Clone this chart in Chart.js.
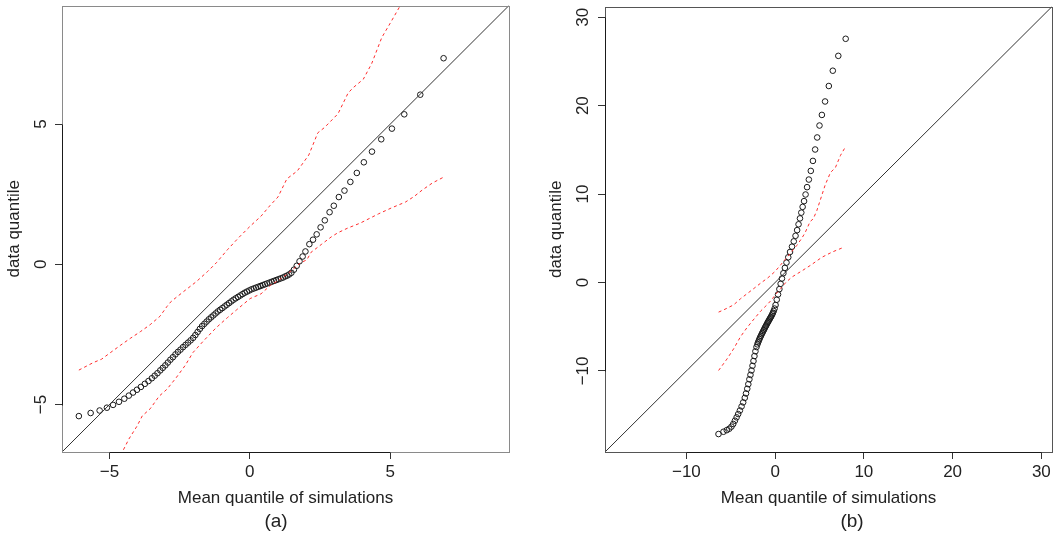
<!DOCTYPE html>
<html lang="en">
<head>
<meta charset="UTF-8">
<title>QQ plots with simulation envelopes</title>
<script src="https://cdn.jsdelivr.net/npm/chart.js"></script>
<style>
  body { margin: 0; background: #fff; width: 1062px; height: 542px; position: relative; overflow: hidden;
         font-family: "Liberation Sans", Arial, sans-serif; }
  .panel { position: absolute; top: 0; height: 542px; }
  #panelA { left: 0; width: 530px; }
  #panelB { left: 530px; width: 532px; }
  .caption { position: absolute; top: 510px; font-size: 19px; line-height: 22px; color: #222; transform: translateX(-50%); }
</style>
</head>
<body>
<div class="panel" id="panelA"><canvas id="chartA"></canvas></div>
<div class="panel" id="panelB"><canvas id="chartB"></canvas></div>
<div class="caption" style="left:276px">(a)</div>
<div class="caption" style="left:852px">(b)</div>

<script>
// ---- panel (a) ----
const aRange = [-6.69, 9.23];
const aTicks = [-5, 0, 5];
const aSimQ = [-6.09, -5.67, -5.35, -5.09, -4.87, -4.66, -4.47, -4.31, -4.16, -4.02, -3.88, -3.74, -3.61, -3.49,
  -3.39, -3.29, -3.19, -3.10, -3.01, -2.92, -2.83, -2.74, -2.65, -2.56, -2.47, -2.38, -2.29, -2.20, -2.11, -2.02,
  -1.94, -1.86, -1.78, -1.70, -1.62, -1.54, -1.46, -1.38, -1.30, -1.22, -1.14, -1.06, -0.98, -0.90, -0.82, -0.74,
  -0.66, -0.58, -0.50, -0.42, -0.34, -0.26, -0.18, -0.10, -0.02, 0.06, 0.14, 0.22, 0.30, 0.38, 0.46, 0.54, 0.62,
  0.70, 0.78, 0.86, 0.94, 1.02, 1.10, 1.18, 1.26, 1.33,
  1.40, 1.48, 1.57, 1.67, 1.77, 1.88, 1.98, 2.12, 2.25, 2.38, 2.52, 2.67, 2.84, 2.99, 3.17, 3.37, 3.58, 3.81,
  4.06, 4.35, 4.68, 5.06, 5.50, 6.07, 6.90];
const aDataQ = [-5.41, -5.30, -5.21, -5.11, -5.01, -4.90, -4.79, -4.68, -4.57, -4.47, -4.37, -4.26, -4.16, -4.06,
  -3.97, -3.88, -3.78, -3.69, -3.60, -3.50, -3.40, -3.31, -3.21, -3.12, -3.04, -2.95, -2.87, -2.79, -2.71, -2.62,
  -2.52, -2.41, -2.30, -2.20, -2.12, -2.04, -1.96, -1.89, -1.82, -1.75, -1.68, -1.62, -1.56, -1.50, -1.44, -1.38,
  -1.32, -1.26, -1.21, -1.16, -1.11, -1.06, -1.01, -0.97, -0.93, -0.89, -0.86, -0.83, -0.80, -0.77, -0.74, -0.71,
  -0.68, -0.65, -0.62, -0.59, -0.56, -0.53, -0.50, -0.47, -0.43, -0.40,
  -0.36, -0.30, -0.19, -0.05, 0.11, 0.28, 0.46, 0.72, 0.88, 1.07, 1.32, 1.57, 1.86, 2.09, 2.40, 2.63, 2.94, 3.26,
  3.64, 4.02, 4.46, 4.84, 5.35, 6.05, 7.35];
const aUpperX = [-6.09, -5.57, -5.28, -4.97, -4.60, -4.26, -3.90, -3.55, -3.20, -2.95, -2.80, -2.36, -1.91, -1.50,
  -1.19, -0.80, -0.40, 0.01, 0.40, 0.72, 1.00, 1.32, 1.69, 2.10, 2.42, 2.66, 3.14, 3.50, 3.68, 4.04, 4.34, 4.70,
  5.00, 5.36, 5.45];
const aUpperY = [-3.77, -3.50, -3.38, -3.15, -2.88, -2.64, -2.40, -2.15, -1.85, -1.50, -1.32, -0.97, -0.62, -0.25,
  0.06, 0.52, 0.95, 1.36, 1.72, 2.10, 2.40, 3.05, 3.33, 3.90, 4.69, 4.88, 5.37, 6.11, 6.30, 6.60, 7.16, 8.09,
  8.60, 9.23, 9.40];
const aLowerX = [-4.60, -4.44, -4.31, -4.02, -3.83, -3.55, -3.23, -2.95, -2.63, -2.30, -2.03, -1.67, -1.19, -0.80,
  -0.47, 0.01, 0.40, 0.73, 1.05, 1.33, 1.60, 1.81, 2.03, 2.18, 2.56, 2.90, 3.14, 3.50, 3.93, 4.58, 5.06, 5.54,
  5.85, 6.14, 6.50, 6.92];
const aLowerY = [-6.80, -6.49, -6.23, -5.77, -5.40, -5.15, -4.70, -4.45, -4.05, -3.60, -3.15, -2.75, -2.25, -1.90,
  -1.62, -1.22, -1.05, -0.75, -0.55, -0.35, -0.12, 0.06, 0.16, 0.43, 0.72, 0.98, 1.13, 1.30, 1.47, 1.80, 2.02, 2.22,
  2.42, 2.65, 2.90, 3.12];

// ---- panel (b) ----
const bRange = [-19.17, 31.2];
const bTicks = [-10, 0, 10, 20, 30];
const bTicksY = [-10, 0, 10, 20, 30];
const bSimQ = [-6.38, -5.82, -5.45, -5.17, -4.92, -4.72, -4.53, -4.34, -4.16, -3.97, -3.78, -3.60, -3.42, -3.28,
  -3.14, -3.02, -2.90, -2.78, -2.66, -2.55, -2.44, -2.33, -2.22, -2.10,
  -2.00, -1.92, -1.84, -1.76, -1.68, -1.60, -1.52, -1.44, -1.36, -1.28, -1.20, -1.12, -1.04, -0.96, -0.88, -0.80,
  -0.72, -0.64, -0.56, -0.48, -0.40, -0.32, -0.24, -0.16, -0.06,
  0.05, 0.18, 0.33, 0.48, 0.62, 0.77, 0.93, 1.10, 1.28, 1.48, 1.68, 1.90, 2.10, 2.30, 2.48, 2.64, 2.80, 2.95,
  3.10, 3.26, 3.43, 3.60, 3.80, 4.02, 4.26, 4.51, 4.74, 5.00, 5.27, 5.63, 6.05, 6.50, 7.12, 7.95];
const bDataQ = [-17.14, -16.88, -16.70, -16.54, -16.30, -16.00, -15.63, -15.25, -14.88, -14.48, -14.02, -13.56,
  -13.05, -12.55, -12.02, -11.50, -10.95, -10.45, -9.95, -9.42, -8.88, -8.32, -7.78, -7.30,
  -7.00, -6.78, -6.58, -6.38, -6.20, -6.03, -5.86, -5.70, -5.54, -5.38, -5.22, -5.06, -4.91, -4.76, -4.61, -4.46,
  -4.32, -4.18, -4.04, -3.90, -3.75, -3.60, -3.42, -3.22, -2.95,
  -2.55, -1.95, -1.35, -0.75, -0.15, 0.45, 1.05, 1.65, 2.25, 2.85, 3.45, 4.05, 4.65, 5.28, 5.92, 6.58, 7.25, 7.90,
  8.55, 9.20, 9.95, 10.78, 11.64, 12.62, 13.75, 15.04, 16.40, 17.75, 18.95, 20.47, 22.22, 23.95, 25.63, 27.56];
const bUpperX = [-6.37, -5.80, -5.23, -4.70, -3.90, -3.20, -2.37, -1.60, -0.84, 0.00, 0.69, 1.30, 1.83, 2.45,
  3.00, 3.36, 3.95, 4.30, 4.70, 5.08, 5.65, 6.23, 6.80, 7.37, 7.95];
const bUpperY = [-3.35, -3.10, -2.81, -2.55, -1.84, -1.30, -0.66, -0.05, 0.51, 1.25, 2.07, 2.80, 3.44, 4.20,
  5.00, 5.59, 6.90, 7.20, 8.13, 9.30, 11.05, 12.42, 13.01, 14.38, 15.38];
const bLowerX = [-6.37, -5.43, -4.68, -3.90, -3.20, -2.60, -1.60, -0.94, -0.46, 0.10, 0.62, 1.20, 1.90, 2.98,
  4.00, 5.27, 6.42, 7.56];
const bLowerY = [-9.95, -8.66, -7.51, -6.13, -5.15, -4.40, -3.20, -2.55, -2.03, -1.30, -0.70, 0.00, 0.62, 1.29,
  1.95, 2.85, 3.44, 3.91];

const FONT = '"Liberation Sans", Arial, sans-serif';
const INK = '#222';
const RED = '#ff2d2d';

const pairs = (xs, ys) => xs.map((x, i) => ({ x: x, y: ys[i] }));
const minus = v => (v < 0 ? '\u2212' + Math.abs(v) : String(v));
const crisp = v => Math.round(v) + 0.5;

// box round the plot region plus the axis lines between first and last tick (R style)
const framePlugin = {
  id: 'frame',
  afterDatasetsDraw(chart, args, opts) {
    const { ctx, chartArea: a, scales: { x, y } } = chart;
    const l = crisp(a.left), t = crisp(a.top), r = crisp(a.right), b = crisp(a.bottom);
    ctx.save();
    ctx.lineWidth = 1;
    ctx.strokeStyle = opts.boxColor;
    ctx.strokeRect(l, t, r - l, b - t);
    ctx.strokeStyle = opts.axisColor;
    ctx.beginPath();
    const xt = opts.xTicks, yt = opts.yTicks;
    ctx.moveTo(crisp(x.getPixelForValue(xt[0])), b);
    ctx.lineTo(crisp(x.getPixelForValue(xt[xt.length - 1])), b);
    ctx.moveTo(l, crisp(y.getPixelForValue(yt[0])));
    ctx.lineTo(l, crisp(y.getPixelForValue(yt[yt.length - 1])));
    ctx.stroke();
    ctx.restore();
  }
};

function makePanel(id, p) {
  const dashed = (data) => ({
    data: data, showLine: true, borderColor: RED, borderWidth: 1, borderDash: [3, 3],
    pointRadius: 0, tension: 0, fill: false
  });
  return new Chart(document.getElementById(id), {
    type: 'scatter',
    data: {
      datasets: [
        dashed(pairs(p.upperX, p.upperY)),
        dashed(pairs(p.lowerX, p.lowerY)),
        {
          data: [{ x: p.range[0], y: p.range[0] }, { x: p.range[1], y: p.range[1] }],
          showLine: true, borderColor: '#333', borderWidth: 1, pointRadius: 0
        },
        {
          data: pairs(p.simQ, p.dataQ), showLine: false, pointStyle: 'circle', pointRadius: 2.8,
          pointBorderWidth: 1, borderColor: '#1a1a1a', backgroundColor: 'rgba(0,0,0,0)', clip: 6
        }
      ]
    },
    options: {
      responsive: true,
      maintainAspectRatio: false,
      animation: false,
      events: [],
      layout: { padding: { top: p.top, right: p.right, left: 0, bottom: 0 } },
      plugins: {
        legend: { display: false },
        tooltip: { enabled: false },
        frame: { boxColor: p.boxColor, axisColor: '#1a1a1a', xTicks: p.xTicks, yTicks: p.yTicks }
      },
      scales: {
        x: {
          type: 'linear', min: p.range[0], max: p.range[1],
          afterBuildTicks: s => { s.ticks = p.xTicks.map(v => ({ value: v })); },
          afterFit: s => { s.height = 90; s.paddingLeft = 0; s.paddingRight = 0; },
          border: { display: false },
          grid: { drawOnChartArea: false, drawTicks: true, tickLength: 7, color: '#333' },
          ticks: { font: { family: FONT, size: 17 }, color: INK, padding: 3, maxRotation: 0, autoSkip: false,
                   callback: minus },
          title: { display: true, text: 'Mean quantile of simulations', color: INK,
                   font: { family: FONT, size: 17 }, padding: { top: 0, bottom: 33 } }
        },
        y: {
          type: 'linear', min: p.range[0], max: p.range[1],
          afterBuildTicks: s => { s.ticks = p.yTicks.map(v => ({ value: v })); },
          afterFit: s => { s.width = p.axisWidth; s.paddingTop = 0; s.paddingBottom = 0; },
          border: { display: false },
          grid: { drawOnChartArea: false, drawTicks: true, tickLength: 7, color: '#333' },
          ticks: { font: { family: FONT, size: 17 }, color: INK, padding: p.labelPad, minRotation: 90,
                   maxRotation: 90, crossAlign: 'center', autoSkip: false, callback: minus },
          title: { display: true, text: 'data quantile', color: INK,
                   font: { family: FONT, size: 17 }, padding: { top: p.titlePad, bottom: 0 } }
        }
      }
    },
    plugins: [framePlugin]
  });
}

makePanel('chartA', {
  range: aRange, xTicks: aTicks, yTicks: aTicks,
  simQ: aSimQ, dataQ: aDataQ, upperX: aUpperX, upperY: aUpperY, lowerX: aLowerX, lowerY: aLowerY,
  top: 5.5, right: 21, axisWidth: 62, labelPad: 4, titlePad: 4, boxColor: '#8a8a8a'
});

makePanel('chartB', {
  range: bRange, xTicks: bTicks, yTicks: bTicksY,
  simQ: bSimQ, dataQ: bDataQ, upperX: bUpperX, upperY: bUpperY, lowerX: bLowerX, lowerY: bLowerY,
  top: 6.6, right: 10, axisWidth: 75, labelPad: 0, titlePad: 16, boxColor: '#555'
});
</script>
</body>
</html>
